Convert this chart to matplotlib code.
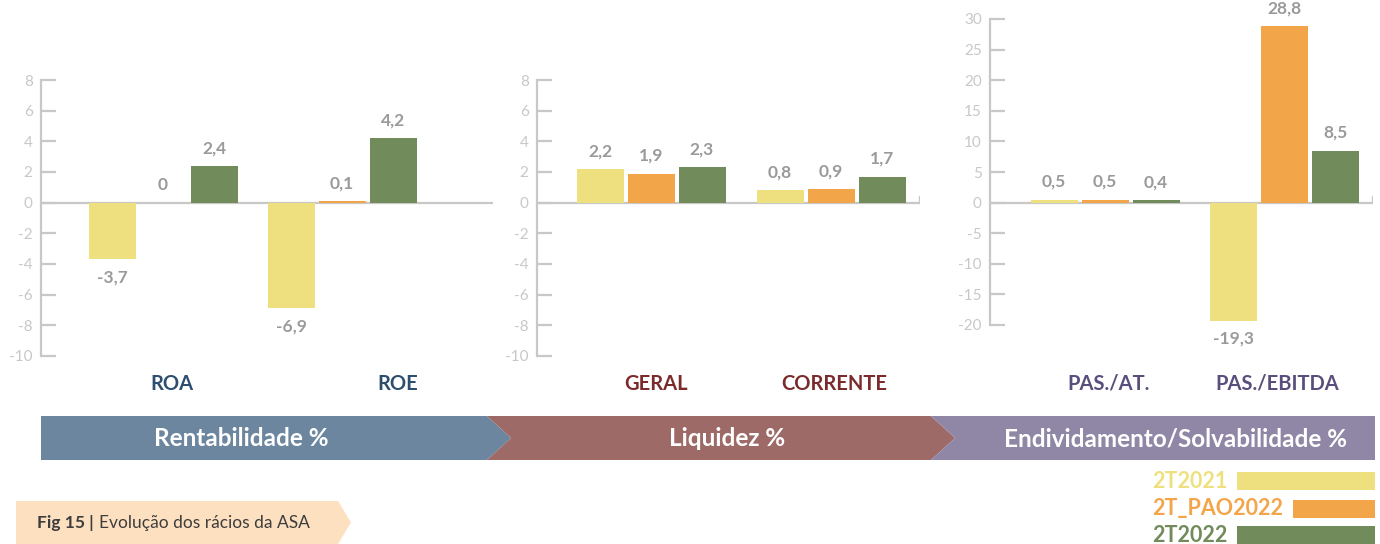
import matplotlib
matplotlib.use("Agg")

import matplotlib.pyplot as plt
from matplotlib.patches import Polygon, Rectangle

plt.rcParams["font.family"] = ["Lato", "DejaVu Sans"]
plt.rcParams["axes.unicode_minus"] = False

# ---------------------------------------------------------------- data ----
SERIES = ["2T2021", "2T_PAO2022", "2T2022"]
SERIES_COLORS = ["#efe07f", "#f3a54a", "#728b5a"]

rent_cats = ["ROA", "ROE"]
rent_2t2021 = [-3.7, -6.9]
rent_pao2022 = [0.0, 0.1]
rent_2t2022 = [2.4, 4.2]

liq_cats = ["GERAL", "CORRENTE"]
liq_2t2021 = [2.2, 0.8]
liq_pao2022 = [1.9, 0.9]
liq_2t2022 = [2.3, 1.7]

div_cats = ["PAS./AT.", "PAS./EBITDA"]
div_2t2021 = [0.5, -19.3]
div_pao2022 = [0.5, 28.8]
div_2t2022 = [0.4, 8.5]

yticks_small = list(range(-10, 9, 2))
yticks_big = list(range(-20, 31, 5))

SECTIONS = ["Rentabilidade %", "Liquidez %", "Endividamento/Solvabilidade %"]
SECTION_COLORS = ["#6b869e", "#9e6a68", "#8f87a5"]
CAT_COLORS = ["#2d4e6e", "#7b2b2b", "#5a4e7c"]

CAPTION_BOLD = "Fig 15 |"
CAPTION_TEXT = "Evolução dos rácios da ASA"

# --------------------------------------------------------------- style ----
W, H = 1380, 544
AXIS_GREY = "#c8c8c8"
VALUE_GREY = "#9a9a9a"

fig = plt.figure(figsize=(W / 100, H / 100), dpi=100)


def fmt(v):
    return "0" if v == 0 else f"{v:.1f}".replace(".", ",")


def add_panel(x0, x1, y_top, y_bot, c0, gap, ylim, yticks, cats, series,
              cat_color, label_pos, label_pad, end_tick):
    ax = fig.add_axes([x0 / W, 1 - y_bot / H, (x1 - x0) / W, (y_bot - y_top) / H])
    xlim = ((x0 - c0) / gap, (x1 - c0) / gap)

    step = 51 / gap
    width = 47 / gap
    for k, (vals, color) in enumerate(zip(series, SERIES_COLORS)):
        xs = [i + (k - 1) * step for i in range(len(cats))]
        bars = ax.bar(xs, vals, width=width, color=color, zorder=2)
        ax.bar_label(bars, labels=[fmt(v) for v in vals], padding=7,
                     color=VALUE_GREY, fontsize=12.5, fontweight="bold",
                     clip_on=False)

    ax.axhline(0, color=AXIS_GREY, lw=1.6, zorder=1)
    if end_tick:
        zf = (0 - ylim[0]) / (ylim[1] - ylim[0])
        ax.axvline(xlim[1], ymin=zf, ymax=zf + 6 / (y_bot - y_top),
                   color=AXIS_GREY, lw=1.6)

    for side in ["top", "right", "bottom"]:
        ax.spines[side].set_visible(False)
    ax.spines["left"].set_color(AXIS_GREY)
    ax.spines["left"].set_linewidth(1.6)
    ax.set_yticks(yticks)
    ax.tick_params(axis="y", direction="in", length=11, width=1.6,
                   color=AXIS_GREY, labelcolor=AXIS_GREY, labelsize=11, pad=6)

    ax.set_xticks(label_pos)
    ax.set_xticklabels(cats, fontsize=14.5, fontweight="bold", color=cat_color)
    ax.tick_params(axis="x", length=0, pad=label_pad)
    ax.set_xlim(*xlim)
    ax.set_ylim(*ylim)
    ax.patch.set_alpha(0)
    return ax


add_panel(41, 493, 80, 356, 163, 179, (-10, 8), yticks_small, rent_cats,
          [rent_2t2021, rent_pao2022, rent_2t2022], CAT_COLORS[0],
          [0.05, 1.31], 13, False)
add_panel(537, 920, 80, 356, 651, 180, (-10, 8), yticks_small, liq_cats,
          [liq_2t2021, liq_pao2022, liq_2t2022], CAT_COLORS[1],
          [0.03, 1.02], 13, True)
add_panel(990, 1373, 19, 325, 1105, 179, (-20, 30), yticks_big, div_cats,
          [div_2t2021, div_pao2022, div_2t2022], CAT_COLORS[2],
          [0.02, 0.96], 35, True)

# ------------------------------------------------ overlay (pixel space) ----
ov = fig.add_axes([0, 0, 1, 1])
ov.set_xlim(0, W)
ov.set_ylim(H, 0)
ov.axis("off")
ov.patch.set_alpha(0)

# section banner with chevron joins
top, bot, mid = 416, 460, 438
banner = [
    [(41, top), (487, top), (511, mid), (487, bot), (41, bot)],
    [(487, top), (931, top), (955, mid), (931, bot), (487, bot), (511, mid)],
    [(931, top), (1375, top), (1375, bot), (931, bot), (955, mid)],
]
text_x = [241, 727, 1176]
for pts, color, name, tx in zip(banner, SECTION_COLORS, SECTIONS, text_x):
    ov.add_patch(Polygon(pts, closed=True, facecolor=color, edgecolor="none"))
    ov.text(tx, mid + 1, name, color="white", fontsize=17.5, fontweight="bold",
            ha="center", va="center")

# caption tag
ov.add_patch(Polygon([(16, 501), (338, 501), (351, 522.5), (338, 544), (16, 544)],
                     closed=True, facecolor="#fde0c0", edgecolor="none"))
fig.canvas.draw()
renderer = fig.canvas.get_renderer()
t1 = ov.text(37, 523, CAPTION_BOLD, color="#3d3d3d", fontsize=12.5,
             fontweight="bold", ha="left", va="center")
bb = t1.get_window_extent(renderer)
ov.text(bb.x1 + 5, 523, CAPTION_TEXT, color="#3d3d3d", fontsize=12.5,
        ha="left", va="center")

# legend: coloured names followed by a bar running to the right edge
rows_y = [481, 508.5, 535]
for name, color, y in zip(SERIES, SERIES_COLORS, rows_y):
    t = ov.text(1152, y, name, color=color, fontsize=15.5, fontweight="bold",
                ha="left", va="center")
    bb = t.get_window_extent(renderer)
    x_start = bb.x1 + 10
    ov.add_patch(Rectangle((x_start, y - 9), 1375 - x_start, 18,
                           facecolor=color, edgecolor="none"))

fig.savefig("out.png", dpi=100)
